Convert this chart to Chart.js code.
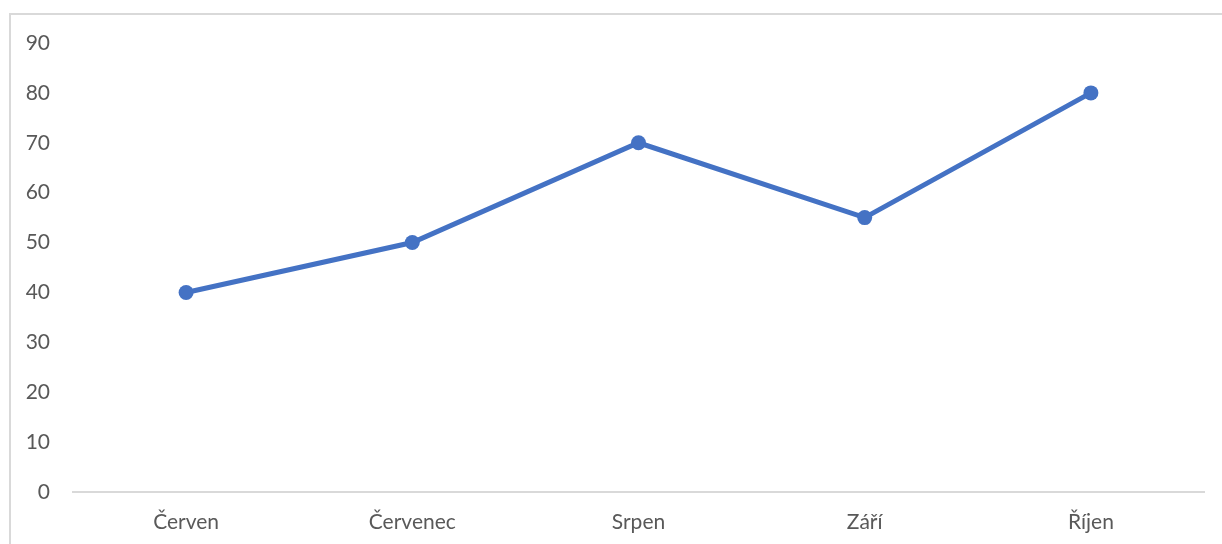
<!DOCTYPE html>
<html>
<head>
<meta charset="utf-8">
<script src="https://cdn.jsdelivr.net/npm/chart.js@4"></script>
<style>
  html, body { margin: 0; padding: 0; background: #fff; }
  #wrap { position: relative; width: 1222px; height: 544px; }
  #frame { position: absolute; left: 9px; top: 13px; right: -10px; bottom: -10px;
           border-left: 2px solid #d9d9d9; border-top: 2px solid #d9d9d9; }
  canvas { position: absolute; left: 0; top: 0; }
</style>
</head>
<body>
<div id="wrap">
  <div id="frame"></div>
  <canvas id="lineChart" width="1222" height="544"></canvas>
</div>
<script>
const months = ["Červen", "Červenec", "Srpen", "Září", "Říjen"];
const values = [40, 50, 70, 55, 80];
const yTicks = [0, 10, 20, 30, 40, 50, 60, 70, 80, 90];

const ctx = document.getElementById('lineChart').getContext('2d');
const tickFont = { family: 'Lato', size: 21 };

new Chart(ctx, {
    type: 'line',
    data: {
        labels: months,
        datasets: [{
            data: values,
            borderColor: '#4472c4',
            backgroundColor: '#4472c4',
            borderWidth: 5,
            pointRadius: 7.5,
            pointBorderWidth: 0,
            pointBackgroundColor: '#4472c4',
            tension: 0,
            fill: false
        }]
    },
    options: {
        responsive: false,
        animation: false,
        layout: { padding: { left: 0, top: 43, right: 18, bottom: 0 } },
        plugins: { legend: { display: false }, tooltip: { enabled: false } },
        scales: {
            x: {
                offset: true,
                grid: { display: false, drawTicks: false },
                border: { display: true, color: '#d9d9d9', width: 2 },
                ticks: { color: '#595959', padding: 18, font: tickFont },
                afterFit: (s) => { s.height = 52; }
            },
            y: {
                min: yTicks[0],
                max: yTicks[yTicks.length - 1],
                afterBuildTicks: (s) => { s.ticks = yTicks.map(v => ({ value: v })); },
                grid: { display: false, drawTicks: false },
                border: { display: false },
                ticks: { color: '#595959', padding: 23, font: tickFont },
                afterFit: (s) => { s.width = 73; }
            }
        }
    }
});
</script>
</body>
</html>
